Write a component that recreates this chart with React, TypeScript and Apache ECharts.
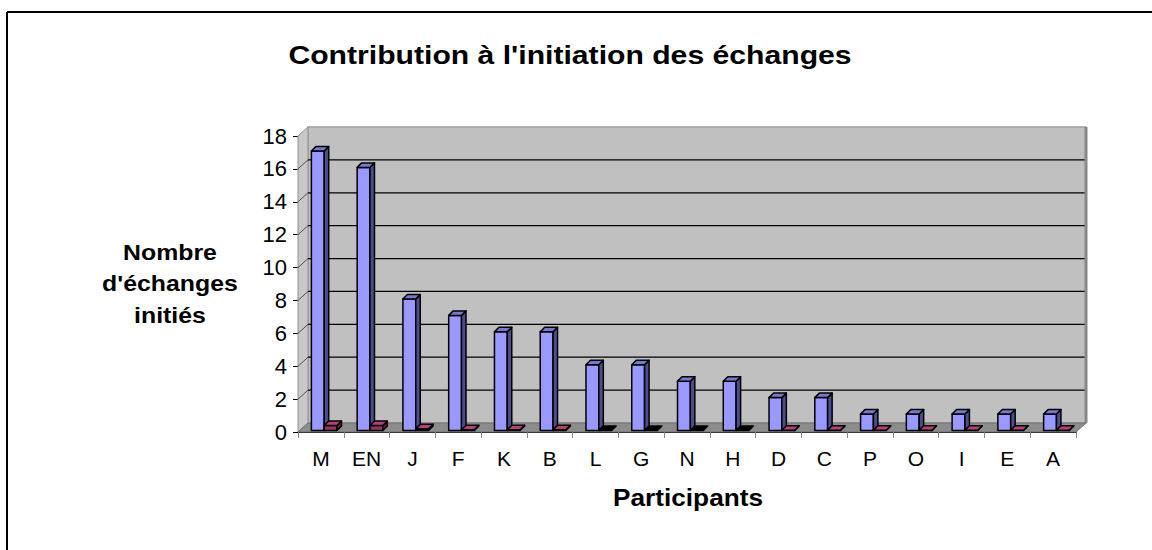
import React, { useEffect, useRef } from "react";
import * as echarts from "echarts";

const categories = ["M", "EN", "J", "F", "K", "B", "L", "G", "N", "H", "D", "C", "P", "O", "I", "E", "A"];
const initiated = [17, 16, 8, 7, 6, 6, 4, 4, 3, 3, 2, 2, 1, 1, 1, 1, 1];
const secondSeries = [0.3, 0.3, 0.1, 0.05, 0.05, 0.05, 0, 0, 0, 0, 0.02, 0.02, 0.02, 0.02, 0.02, 0.02, 0.02];
const yTicks = [0, 2, 4, 6, 8, 10, 12, 14, 16, 18];
const titleText = "Contribution à l'initiation des échanges";
const yNameText = "Nombre\nd'échanges\ninitiés";
const xNameText = "Participants";

const WALL: [number, number] = [10, -9];
const BAR_FRONT: [number, number] = [1.5, -1.5];
const BAR_DEPTH: [number, number] = [4.5, -4.5];
const FONT = "'Liberation Sans', Arial, sans-serif";

function barRenderer(offsetFrac: number, widthFrac: number, front: string, side: string, top: string, zeroFill: string) {
  return (params: any, api: any) => {
    const i = api.value(0);
    const v = api.value(1);
    const base = api.coord([i, 0]);
    const tp = api.coord([i, v]);
    const band = api.size([1, 0])[0];
    const x0 = base[0] + offsetFrac * band + BAR_FRONT[0];
    const x1 = x0 + widthFrac * band;
    const yb = base[1] + BAR_FRONT[1];
    const yt = tp[1] + BAR_FRONT[1];
    const [dx, dy] = BAR_DEPTH;
    const stroke = { stroke: "#000", lineWidth: 1.5, lineJoin: "round" };
    const children: any[] = [];
    if (v > 0) {
      children.push({
        type: "polygon",
        shape: { points: [[x0, yt], [x1, yt], [x1, yb], [x0, yb]] },
        style: { fill: front, ...stroke },
      });
      children.push({
        type: "polygon",
        shape: { points: [[x1, yt], [x1 + dx, yt + dy], [x1 + dx, yb + dy], [x1, yb]] },
        style: { fill: side, ...stroke },
      });
    }
    children.push({
      type: "polygon",
      shape: { points: [[x0, yt], [x1, yt], [x1 + dx, yt + dy], [x0 + dx, yt + dy]] },
      style: { fill: v > 0 ? top : zeroFill, ...stroke },
    });
    return { type: "group", children };
  };
}

function wallRenderer(params: any, api: any) {
  const band = api.size([1, 0])[0];
  const c0 = api.coord([0, 0]);
  const cN = api.coord([categories.length - 1, 0]);
  const xl = c0[0] - band / 2;
  const xr = cN[0] + band / 2;
  const yb = c0[1];
  const yt = api.coord([0, yTicks[yTicks.length - 1]])[1];
  const [dx, dy] = WALL;
  const children: any[] = [
    {
      type: "polygon",
      shape: { points: [[xl + dx, yt + dy], [xr + dx, yt + dy], [xr + dx, yb + dy], [xl + dx, yb + dy]] },
      style: { fill: "#C0C0C0", stroke: "#A0A0A0", lineWidth: 1.5 },
    },
    {
      type: "polygon",
      shape: { points: [[xl, yt], [xl + dx, yt + dy], [xl + dx, yb + dy], [xl, yb]] },
      style: { fill: "#C8C8C8", stroke: "#909090", lineWidth: 1 },
    },
  ];
  yTicks.forEach((t) => {
    if (t <= 0 || t >= yTicks[yTicks.length - 1]) return;
    const y = api.coord([0, t])[1];
    children.push({
      type: "line",
      shape: { x1: xl + dx, y1: y + dy, x2: xr + dx, y2: y + dy },
      style: { stroke: "#000", lineWidth: 1.3 },
    });
    children.push({
      type: "line",
      shape: { x1: xl, y1: y, x2: xl + dx, y2: y + dy },
      style: { stroke: "#505050", lineWidth: 1 },
    });
  });
  children.push({
    type: "line",
    shape: { x1: xr + dx, y1: yt + dy, x2: xr + dx, y2: yb + dy },
    style: { stroke: "#888888", lineWidth: 3 },
  });
  children.push({
    type: "polygon",
    shape: { points: [[xl, yb], [xr, yb], [xr + dx, yb + dy], [xl + dx, yb + dy]] },
    style: { fill: "#8C8C8C", stroke: "#707070", lineWidth: 1 },
  });
  return { type: "group", children };
}

export default function App() {
  const ref = useRef<HTMLDivElement>(null);
  useEffect(() => {
    if (!ref.current) return;
    const chart = echarts.init(ref.current, null, { renderer: "svg" });
    chart.setOption({
      animation: false,
      backgroundColor: "#ffffff",
      grid: { left: 298, right: 76, top: 136, bottom: 118 },
      xAxis: {
        type: "category",
        data: categories,
        boundaryGap: true,
        axisLine: { show: true, lineStyle: { color: "#000", width: 1 } },
        axisTick: { show: true, length: 6, lineStyle: { color: "#888" } },
        axisLabel: { fontFamily: FONT, fontSize: 21, color: "#000", margin: 16, interval: 0 },
        splitLine: { show: false },
      },
      yAxis: {
        type: "value",
        min: 0,
        max: 18,
        interval: 2,
        axisLine: { show: true, lineStyle: { color: "#000", width: 1 } },
        axisTick: { show: true, length: 5, lineStyle: { color: "#000" } },
        axisLabel: { fontFamily: FONT, fontSize: 22, color: "#000", margin: 11 },
        splitLine: { show: false },
      },
      graphic: [
        {
          type: "line",
          shape: { x1: 7, y1: 12, x2: 1152, y2: 12 },
          style: { stroke: "#000", lineWidth: 2 },
          z: 100,
        },
        {
          type: "line",
          shape: { x1: 7, y1: 12, x2: 7, y2: 550 },
          style: { stroke: "#000", lineWidth: 2 },
          z: 100,
        },
        {
          type: "text",
          x: 570,
          y: 55,
          scaleX: 1.16,
          style: {
            text: titleText,
            font: `bold 26px ${FONT}`,
            fill: "#000",
            textAlign: "center",
            textVerticalAlign: "middle",
            align: "center",
            verticalAlign: "middle",
          },
        },
        {
          type: "text",
          x: 170,
          y: 284,
          scaleX: 1.13,
          style: {
            text: yNameText,
            font: `bold 22px ${FONT}`,
            lineHeight: 32,
            fill: "#000",
            textAlign: "center",
            textVerticalAlign: "middle",
            align: "center",
            verticalAlign: "middle",
          },
        },
        {
          type: "text",
          x: 688,
          y: 498,
          scaleX: 1.14,
          style: {
            text: xNameText,
            font: `bold 23px ${FONT}`,
            fill: "#000",
            textAlign: "center",
            textVerticalAlign: "middle",
            align: "center",
            verticalAlign: "middle",
          },
        },
      ],
      series: [
        {
          type: "custom",
          renderItem: wallRenderer,
          data: [[0, 0]],
          z: 1,
          silent: true,
        },
        {
          type: "custom",
          name: "initiés",
          renderItem: barRenderer(-0.24, 0.28, "#9999FF", "#4D4D8C", "#7878D0", "#000"),
          data: initiated.map((v, i) => [i, v]),
          z: 2,
        },
        {
          type: "custom",
          name: "série 2",
          renderItem: barRenderer(0.04, 0.28, "#993366", "#5C1F3D", "#B5407A", "#000"),
          data: secondSeries.map((v, i) => [i, v]),
          z: 3,
        },
      ],
    });
    return () => chart.dispose();
  }, []);
  return <div ref={ref} style={{ position: "fixed", left: 0, top: 0, width: 1152, height: 550 }} />;
}
